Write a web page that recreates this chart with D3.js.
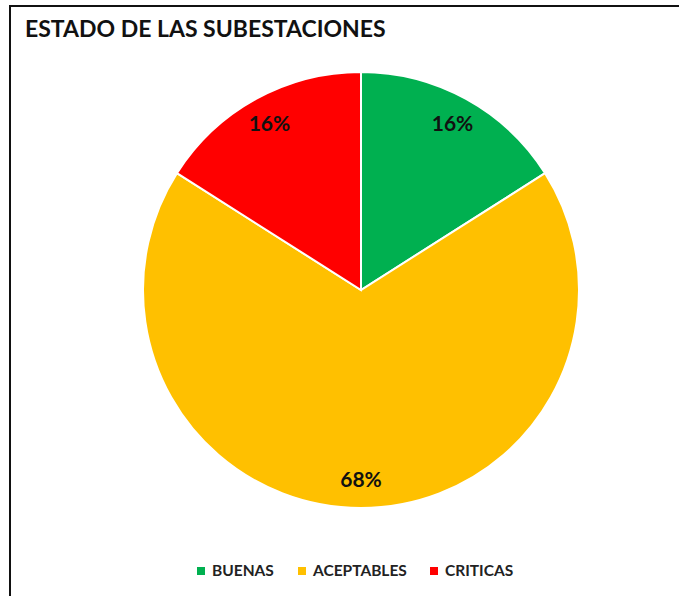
<!DOCTYPE html>
<html>
<head>
<meta charset="utf-8">
<script src="https://cdn.jsdelivr.net/npm/d3@7"></script>
<style>
  body { margin: 0; background: #fff; }
  svg { display: block; font-family: Lato, "Open Sans", sans-serif; }
</style>
</head>
<body>
<div class="chart"></div>
<script>
// data
var categories = ["BUENAS", "ACEPTABLES", "CRITICAS"];
var values = [16, 68, 16];
var labels = ["16%", "68%", "16%"];
var colors = ["#00b050", "#ffc000", "#ff0000"];

var svgWidth = 679;
var svgHeight = 596;

var svg = d3.select(".chart")
  .append("svg")
  .attr("width", svgWidth)
  .attr("height", svgHeight);

// chart frame (only left and top edges are visible in the crop)
svg.append("rect")
  .attr("x", 10)
  .attr("y", 6)
  .attr("width", 700)
  .attr("height", 620)
  .attr("fill", "none")
  .attr("stroke", "#111")
  .attr("stroke-width", 2);

svg.append("text")
  .attr("x", 25)
  .attr("y", 37)
  .attr("font-size", "23px")
  .attr("font-weight", "bold")
  .attr("fill", "#111")
  .text("ESTADO DE LAS SUBESTACIONES");

var cx = 361, cy = 290, radius = 218;

var pieGroup = svg.append("g")
  .attr("transform", `translate(${cx}, ${cy})`);

var pie = d3.pie().sort(null).value(d => d.value);
var data = categories.map((c, i) => ({ name: c, value: values[i], label: labels[i], color: colors[i] }));
var arcs = pie(data);

var arc = d3.arc().innerRadius(0).outerRadius(radius);
var labelArc = d3.arc().innerRadius(190).outerRadius(190);

pieGroup.selectAll("path")
  .data(arcs)
  .enter()
  .append("path")
  .attr("d", arc)
  .attr("fill", d => d.data.color)
  .attr("stroke", "#fff")
  .attr("stroke-width", 2);

pieGroup.selectAll("text")
  .data(arcs)
  .enter()
  .append("text")
  .attr("transform", d => `translate(${labelArc.centroid(d)})`)
  .attr("text-anchor", "middle")
  .attr("dy", "0.35em")
  .attr("font-size", "21px")
  .attr("font-weight", "bold")
  .attr("fill", "#111")
  .text(d => d.data.label);

// legend
var legendX = [197, 298, 430];
var legend = svg.selectAll(".legend")
  .data(data)
  .enter()
  .append("g")
  .attr("transform", (d, i) => `translate(${legendX[i]}, 571)`);

legend.append("rect")
  .attr("x", 0)
  .attr("y", -4)
  .attr("width", 8)
  .attr("height", 8)
  .attr("fill", d => d.color);

legend.append("text")
  .attr("x", 15)
  .attr("dy", "0.35em")
  .attr("font-size", "15.5px")
  .attr("font-weight", "bold")
  .attr("fill", "#222")
  .text(d => d.name);
</script>
</body>
</html>
